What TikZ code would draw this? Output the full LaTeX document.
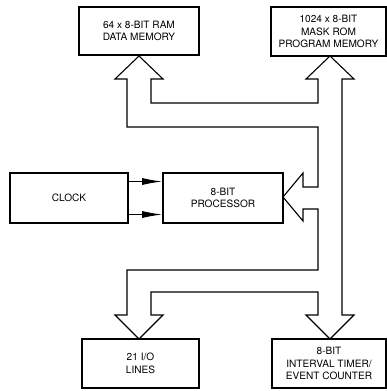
\documentclass[tikz,border=0pt]{standalone}
\usepackage{fontspec}
\setmainfont{TeX Gyre Heros}
\usetikzlibrary{arrows.meta}
\begin{document}
\begin{tikzpicture}[x=1pt,y=-1pt,
  blk/.style={draw,line width=1.7pt,rectangle,inner sep=0pt,align=center,
    font=\fontsize{10.1}{12.5}\selectfont},
  bus/.style={draw,line width=1.1pt,line join=miter},
  clk/.style={line width=1pt,-{Latex[length=20pt,width=7pt]}}]
\useasboundingbox (0,0) rectangle (387,391);
\node[blk,minimum width=120pt,minimum height=48pt] (ram) at (139,31) {64 x 8-BIT RAM\\DATA MEMORY};
\node[blk,minimum width=115pt,minimum height=49pt] (rom) at (328.5,31.5) {1024 x 8-BIT\\MASK ROM\\PROGRAM MEMORY};
\node[blk,minimum width=118pt,minimum height=50pt] (clock) at (69,198) {CLOCK};
\node[blk,minimum width=120pt,minimum height=50pt] (proc) at (223,198) {8-BIT\\PROCESSOR};
\node[blk,minimum width=117pt,minimum height=49pt] (io) at (140.5,363.5) {21 I/O\\LINES};
\node[blk,minimum width=114pt,minimum height=49pt] (timer) at (329,363.5) {8-BIT\\INTERVAL TIMER/\\EVENT COUNTER};
\draw[clk] ([yshift=16.5pt]clock.east) -- ([yshift=16.5pt]proc.west);
\draw[clk] ([yshift=-16.5pt]clock.east) -- ([yshift=-16.5pt]proc.west);
\draw[bus] (127,127) -- (127,79) -- (115,79) -- (139,56) -- (163,79) -- (151,79)
  -- (151,103) -- (318,103) -- (318,79) -- (306,79) -- (330,56) -- (354,79) -- (342,79)
  -- (342,315) -- (354,315) -- (330,339) -- (306,315) -- (318,315) -- (318,292)
  -- (151,292) -- (151,315) -- (163,315) -- (139,339) -- (115,315) -- (127,315)
  -- (127,270) -- (318,270) -- (318,209) -- (303,209) -- (303,221) -- (283,197)
  -- (303,173) -- (303,187) -- (318,187) -- (318,127) -- cycle;
\end{tikzpicture}
\end{document}
